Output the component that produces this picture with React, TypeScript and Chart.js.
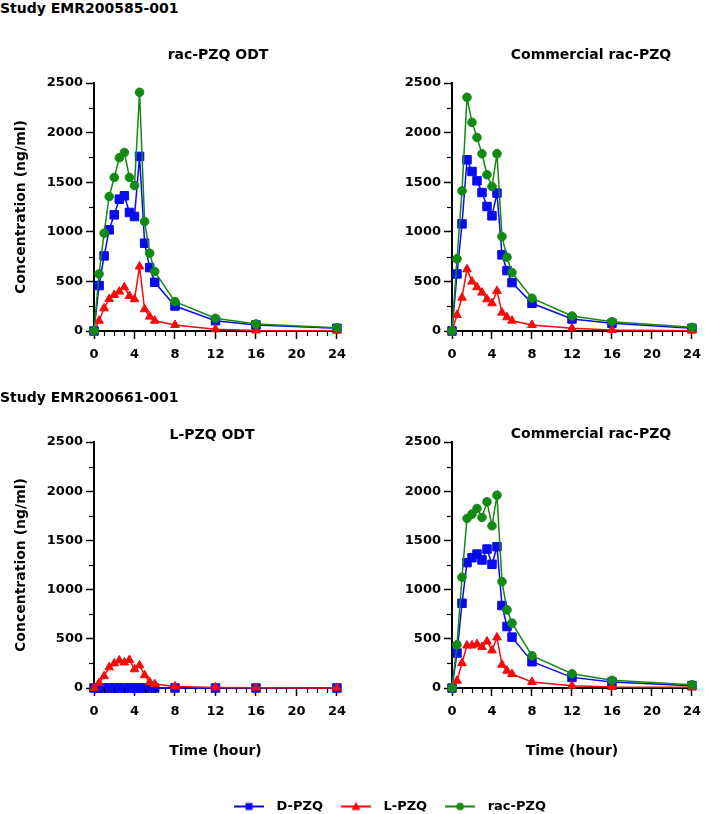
import React, { useEffect, useRef } from 'react';
import { Chart, registerables } from 'chart.js';
Chart.register(...registerables);

// ---------- data ----------
const TIME = [0, 0.5, 1, 1.5, 2, 2.5, 3, 3.5, 4, 4.5, 5, 5.5, 6, 8, 12, 16, 24];
const X_TICKS = [0, 4, 8, 12, 16, 20, 24];
const X_MINOR = [1, 2, 3, 5, 6, 7, 9, 10, 11, 13, 14, 15, 17, 18, 19, 21, 22, 23];
const Y_TICKS = [0, 500, 1000, 1500, 2000, 2500];
const Y_MINOR = [250, 750, 1250, 1750, 2250];

const SERIES_NAMES = ['D-PZQ', 'L-PZQ', 'rac-PZQ'];

// Study EMR200585-001, rac-PZQ ODT
const P1_D = [0, 458, 757, 1020, 1171, 1329, 1363, 1195, 1154, 1760, 885, 639, 491, 252, 104, 61, 27];
const P1_L = [0, 104, 229, 323, 363, 397, 441, 353, 320, 650, 219, 145, 104, 61, 17, 5, 3];
const P1_RAC = [0, 575, 986, 1356, 1548, 1746, 1800, 1548, 1467, 2406, 1104, 784, 599, 296, 128, 71, 34];

// Study EMR200585-001, Commercial rac-PZQ
const P2_D = [0, 575, 1080, 1726, 1608, 1514, 1396, 1255, 1161, 1390, 767, 609, 488, 279, 121, 77, 27];
const P2_L = [0, 161, 336, 622, 498, 441, 387, 320, 279, 404, 185, 138, 104, 61, 27, 10, 3];
const P2_RAC = [0, 727, 1413, 2355, 2103, 1951, 1787, 1575, 1457, 1787, 952, 744, 589, 330, 151, 94, 37];

// Study EMR200661-001, L-PZQ ODT
const P3_D = [0, 0, 0, 0, 0, 0, 0, 0, 0, 0, 0, 0, 0, 0, 0, 0, 0];
const P3_L = [0, 50, 120, 210, 250, 280, 260, 285, 190, 230, 130, 60, 40, 15, 5, 2, 1];
const P3_RAC: number[] = [];

// Study EMR200661-001, Commercial rac-PZQ
const P4_D = [0, 355, 861, 1274, 1324, 1361, 1301, 1412, 1257, 1436, 838, 625, 517, 267, 108, 61, 24];
const P4_L = [0, 74, 253, 432, 432, 446, 416, 473, 382, 514, 236, 176, 142, 61, 24, 10, 7];
const P4_RAC = [0, 439, 1125, 1723, 1767, 1824, 1733, 1892, 1649, 1959, 1081, 794, 659, 328, 145, 78, 34];

// ---------- style ----------
const BLUE = '#0a0aef';
const RED = '#f50a0a';
const GREEN = '#138a13';
const FONT_FAMILY = '"DejaVu Sans", Arial, sans-serif';

const minorTicks = {
  id: 'minorTicks',
  afterDraw(chart: any) {
    const { ctx, chartArea, scales } = chart;
    const x = scales.x;
    const y = scales.y;
    ctx.save();
    ctx.strokeStyle = '#000';
    ctx.lineWidth = 1.2;
    X_MINOR.forEach((v) => {
      const px = Math.round(x.getPixelForValue(v)) + 0.5;
      ctx.beginPath();
      ctx.moveTo(px, chartArea.bottom + 1);
      ctx.lineTo(px, chartArea.bottom + 5);
      ctx.stroke();
    });
    Y_MINOR.forEach((v) => {
      const py = Math.round(y.getPixelForValue(v)) + 0.5;
      ctx.beginPath();
      ctx.moveTo(chartArea.left - 1, py);
      ctx.lineTo(chartArea.left - 5, py);
      ctx.stroke();
    });
    ctx.restore();
  },
};

type PanelProps = {
  d: number[];
  l: number[];
  rac: number[];
  left: number;
  top: number;
  width: number;
  height: number;
  yWidth: number;
  padTop: number;
  padRight: number;
  xHeight: number;
  showY: boolean;
  showX: boolean;
};

const pts = (arr: number[]) => arr.map((v, i) => ({ x: TIME[i], y: v }));

function Panel(p: PanelProps) {
  const ref = useRef<HTMLCanvasElement>(null);
  useEffect(() => {
    if (!ref.current) return;
    const tickFont = { family: FONT_FAMILY, size: 13, weight: 'bold' as const };
    const titleFont = { family: FONT_FAMILY, size: 14, weight: 'bold' as const };
    const common = {
      borderWidth: 1.5,
      pointBorderWidth: 1,
      clip: false as const,
      tension: 0,
    };
    const chart = new Chart(ref.current, {
      type: 'line',
      data: {
        datasets: [
          {
            label: SERIES_NAMES[0],
            data: pts(p.d),
            borderColor: BLUE,
            backgroundColor: BLUE,
            pointStyle: 'rect',
            pointRadius: 6,
            order: 2,
            ...common,
          },
          {
            label: SERIES_NAMES[1],
            data: pts(p.l),
            borderColor: RED,
            backgroundColor: RED,
            pointStyle: 'triangle',
            pointRadius: 5,
            order: 1,
            ...common,
          },
          {
            label: SERIES_NAMES[2],
            data: pts(p.rac),
            borderColor: GREEN,
            backgroundColor: GREEN,
            pointStyle: 'circle',
            pointRadius: 4.3,
            order: 0,
            ...common,
          },
        ],
      },
      options: {
        responsive: false,
        maintainAspectRatio: false,
        animation: false,
        layout: { padding: { top: p.padTop, right: p.padRight, bottom: 0, left: 0 } },
        plugins: { legend: { display: false }, tooltip: { enabled: false }, title: { display: false } },
        scales: {
          x: {
            type: 'linear',
            min: 0,
            max: 24,
            afterBuildTicks: (s: any) => {
              s.ticks = X_TICKS.map((v) => ({ value: v }));
            },
            ticks: {
              font: tickFont,
              color: '#000',
              padding: 8,
              maxRotation: 0,
              autoSkip: false,
              callback: (v: any) => String(v),
            },
            grid: { drawOnChartArea: false, tickLength: 8, tickColor: '#000', tickWidth: 1.5 },
            border: { color: '#000', width: 2 },
            title: {
              display: p.showX,
              text: 'Time (hour)',
              font: titleFont,
              color: '#000',
              padding: { top: 0, bottom: 10 },
            },
            afterFit: (s: any) => {
              s.height = p.xHeight;
            },
          },
          y: {
            type: 'linear',
            min: 0,
            max: 2500,
            afterBuildTicks: (s: any) => {
              s.ticks = Y_TICKS.map((v) => ({ value: v }));
            },
            ticks: { font: tickFont, color: '#000', padding: 3, callback: (v: any) => String(v) },
            grid: { drawOnChartArea: false, tickLength: 8, tickColor: '#000', tickWidth: 1.5 },
            border: { color: '#000', width: 2 },
            title: {
              display: p.showY,
              text: 'Concentration (ng/ml)',
              font: titleFont,
              color: '#000',
              padding: { top: 13, bottom: 0 },
            },
            afterFit: (s: any) => {
              s.width = p.yWidth;
            },
          },
        },
      },
      plugins: [minorTicks],
    });
    return () => chart.destroy();
  }, []);
  return (
    <canvas
      ref={ref}
      width={p.width}
      height={p.height}
      style={{ position: 'absolute', left: p.left, top: p.top, width: p.width, height: p.height }}
    />
  );
}

function makeIcon(color: string, shape: string) {
  // 36 px wide image: a 30 px line with the marker, plus transparent room on the right
  const c = document.createElement('canvas');
  c.width = 36;
  c.height = 12;
  const ctx = c.getContext('2d')!;
  ctx.strokeStyle = color;
  ctx.fillStyle = color;
  ctx.lineWidth = 2;
  ctx.beginPath();
  ctx.moveTo(0, 6);
  ctx.lineTo(30, 6);
  ctx.stroke();
  ctx.beginPath();
  if (shape === 'rect') {
    ctx.rect(11.5, 2.5, 7, 7);
  } else if (shape === 'triangle') {
    ctx.moveTo(15, 1.5);
    ctx.lineTo(19.5, 9.5);
    ctx.lineTo(10.5, 9.5);
    ctx.closePath();
  } else {
    ctx.arc(15, 6, 3.8, 0, Math.PI * 2);
  }
  ctx.fill();
  return c;
}

const LEGEND_LEFT = 71;
const LEGEND_TOP = 754;
const LEGEND_W = 638;
const LEGEND_H = 120;

function LegendChart() {
  const ref = useRef<HTMLCanvasElement>(null);
  useEffect(() => {
    if (!ref.current) return;
    const icons = [makeIcon(BLUE, 'rect'), makeIcon(RED, 'triangle'), makeIcon(GREEN, 'circle')];
    const colors = [BLUE, RED, GREEN];
    const chart = new Chart(ref.current, {
      type: 'line',
      data: {
        datasets: SERIES_NAMES.map((n, i) => ({
          label: n,
          data: [{ x: 0, y: 0 }],
          borderColor: colors[i],
          backgroundColor: colors[i],
          pointRadius: 0,
          borderWidth: 0,
        })),
      },
      options: {
        responsive: false,
        maintainAspectRatio: false,
        animation: false,
        layout: { padding: { top: 28 } },
        scales: { x: { display: false, type: 'linear' }, y: { display: false } },
        plugins: {
          tooltip: { enabled: false },
          legend: {
            display: true,
            position: 'top',
            labels: {
              usePointStyle: true,
              pointStyleWidth: 36,
              padding: 18,
              color: '#000',
              font: { family: FONT_FAMILY, size: 13, weight: 'bold' },
              generateLabels: (ch: any) =>
                ch.data.datasets.map((ds: any, i: number) => ({
                  text: ds.label,
                  pointStyle: icons[i],
                  fillStyle: colors[i],
                  strokeStyle: colors[i],
                  lineWidth: 0,
                  hidden: false,
                  datasetIndex: i,
                  fontColor: '#000',
                })),
            },
          },
        },
      },
    });
    return () => chart.destroy();
  }, []);
  return (
    <canvas
      ref={ref}
      width={LEGEND_W}
      height={LEGEND_H}
      style={{ position: 'absolute', left: LEGEND_LEFT, top: LEGEND_TOP, width: LEGEND_W, height: LEGEND_H }}
    />
  );
}

const textStyle = {
  position: 'absolute' as const,
  fontFamily: FONT_FAMILY,
  fontWeight: 'bold' as const,
  fontSize: 14,
  lineHeight: '16px',
  color: '#000',
  whiteSpace: 'nowrap' as const,
};

function PanelTitle({ text, cx, cy }: { text: string; cx: number; cy: number }) {
  return (
    <div style={{ ...textStyle, left: cx - 150, width: 300, top: cy - 8, textAlign: 'center' }}>{text}</div>
  );
}

export default function App() {
  return (
    <div
      style={{
        position: 'absolute',
        left: 0,
        top: 0,
        width: 709,
        height: 814,
        background: '#fff',
        overflow: 'hidden',
      }}
    >
      <LegendChart />
      <Panel d={P1_D} l={P1_L} rac={P1_RAC} left={0} top={30} width={354} height={350} yWidth={94} padTop={53} padRight={14} xHeight={49} showY showX={false} />
      <Panel d={P2_D} l={P2_L} rac={P2_RAC} left={354} top={30} width={355} height={350} yWidth={98} padTop={53} padRight={9} xHeight={49} showY={false} showX={false} />
      <Panel d={P3_D} l={P3_L} rac={P3_RAC} left={0} top={400} width={354} height={370} yWidth={94} padTop={42} padRight={14} xHeight={82} showY showX />
      <Panel d={P4_D} l={P4_L} rac={P4_RAC} left={354} top={400} width={355} height={370} yWidth={98} padTop={42} padRight={9} xHeight={82} showY={false} showX />
      <div style={{ ...textStyle, left: 0, top: 0 }}>Study EMR200585-001</div>
      <div style={{ ...textStyle, left: 0, top: 389 }}>Study EMR200661-001</div>
      <PanelTitle text="rac-PZQ ODT" cx={218} cy={54} />
      <PanelTitle text="Commercial rac-PZQ" cx={591} cy={54} />
      <PanelTitle text="L-PZQ ODT" cx={212} cy={434} />
      <PanelTitle text="Commercial rac-PZQ" cx={591} cy={433} />
    </div>
  );
}
